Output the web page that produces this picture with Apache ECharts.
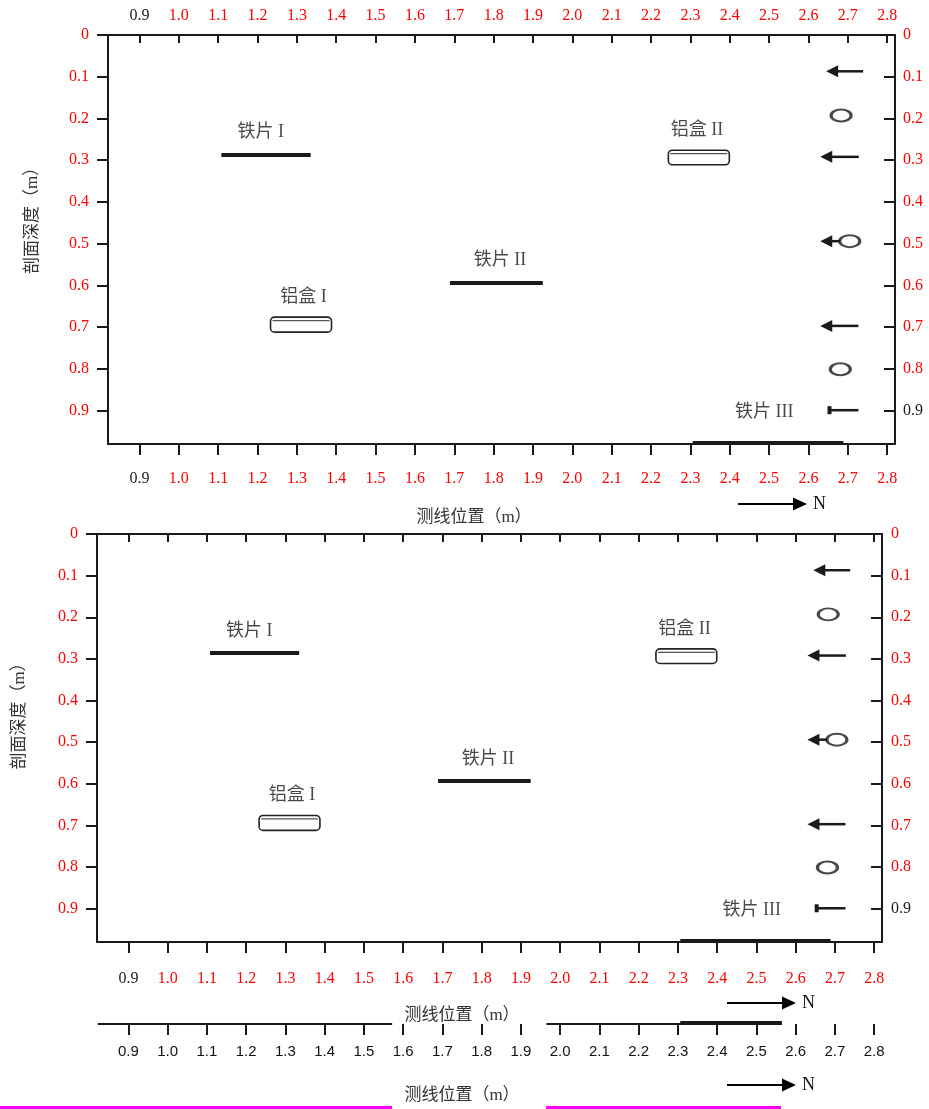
<!DOCTYPE html>
<html>
<head>
<meta charset="utf-8">
<script src="https://cdn.jsdelivr.net/npm/echarts@6/dist/echarts.min.js"></script>
<style>
  html, body { margin: 0; padding: 0; background: #fff; }
  #chart { width: 929px; height: 1109px; }
</style>
</head>
<body>
<div id="chart"></div>
<script>
// tick values
const xTicks = [0.9, 1.0, 1.1, 1.2, 1.3, 1.4, 1.5, 1.6, 1.7, 1.8, 1.9, 2.0, 2.1, 2.2, 2.3, 2.4, 2.5, 2.6, 2.7, 2.8];
const yTicks = [0, 0.1, 0.2, 0.3, 0.4, 0.5, 0.6, 0.7, 0.8, 0.9];

// 铁片 (iron sheets)
const sheetNames = ['铁片 I', '铁片 II', '铁片 III'];
const sheetStart = [1.108, 1.689, 2.306];
const sheetEnd = [1.335, 1.925, 2.689];
const sheetDepth = [0.286, 0.593, 0.978];
const sheetLabelX = [1.208, 1.816, 2.488];
const sheetLabelDepth = [0.234, 0.54, 0.903];

// 铝盒 (aluminium boxes)
const boxNames = ['铝盒 I', '铝盒 II'];
const boxStart = [1.233, 2.244];
const boxEnd = [1.388, 2.399];
const boxTop = [0.676, 0.276];
const boxBottom = [0.712, 0.311];
const boxLabelX = [1.317, 2.317];
const boxLabelDepth = [0.628, 0.229];

// arrows and rings in the right column
const arrowTip = [2.645, 2.630, 2.630, 2.630, 2.651];
const arrowTail = [2.739, 2.728, 2.680, 2.727, 2.727];
const arrowDepth = [0.087, 0.292, 0.494, 0.697, 0.899];
const arrowBlunt = [0, 0, 0, 0, 1];
const ringX = [2.683, 2.705, 2.681];
const ringDepth = [0.193, 0.494, 0.801];

// lower strip
const stripAxisStart = [0.822, 1.965];
const stripAxisEnd = [1.572, 2.565];
const stripSheetStart = 2.306;
const stripSheetEnd = 2.565;

const RED = '#ff0000';
const INK = '#1a1a1a';
const SERIF = '"Liberation Serif", "Noto Sans CJK SC", serif';
const fmtX = v => v.toFixed(1);
const fmtY = v => (v === 0 ? '0' : v.toFixed(1));
const X_TITLE = '测线位置（m）';
const Y_TITLE = '剖面深度（m）';

function xAxis(grid, pos, o) {
  return {
    type: 'value', gridIndex: grid, position: pos, min: 0.82, max: 2.82,
    splitLine: { show: false },
    axisLine: { show: o.line !== false, onZero: false, lineStyle: { color: INK, width: 2 } },
    axisTick: { show: true, inside: o.inside, length: o.tickLen, customValues: xTicks, lineStyle: { color: INK, width: 2 } },
    axisLabel: {
      show: o.labels !== false, customValues: xTicks, margin: o.margin,
      formatter: fmtX, fontFamily: o.font || SERIF, fontSize: o.fontSize || 16,
      color: o.color || (v => (Math.abs(v - 0.9) < 1e-6 ? INK : RED))
    },
    name: o.name || '', nameLocation: 'middle', nameGap: o.nameGap || 0,
    nameTextStyle: { fontFamily: SERIF, fontSize: 17, color: '#333', padding: [0, 55, 0, 0] }
  };
}

function yAxis(grid, pos, o) {
  return {
    type: 'value', gridIndex: grid, position: pos, min: 0, max: 0.98, inverse: true,
    splitLine: { show: false },
    axisLine: { show: true, lineStyle: { color: INK, width: 2 } },
    axisTick: { show: true, inside: o.inside, length: 11, customValues: yTicks, lineStyle: { color: INK, width: 2 } },
    axisLabel: {
      customValues: yTicks, margin: o.margin, formatter: fmtY,
      fontFamily: SERIF, fontSize: 16, color: o.color
    },
    name: o.name || '', nameLocation: 'middle', nameGap: o.nameGap || 0, nameRotate: 90,
    nameTextStyle: { fontFamily: SERIF, fontSize: 17, color: '#333', padding: o.namePad || 0 }
  };
}

function plotSeries(xi, yi) {
  const base = { xAxisIndex: xi, yAxisIndex: yi, silent: true };
  return [
    Object.assign({}, base, {
      type: 'lines', coordinateSystem: 'cartesian2d', z: 5,
      lineStyle: { color: INK, width: 4, opacity: 1 },
      data: sheetNames.map((n, i) => ({ coords: [[sheetStart[i], sheetDepth[i]], [sheetEnd[i], sheetDepth[i]]] }))
    }),
    Object.assign({}, base, {
      type: 'scatter', symbolSize: 0,
      label: { show: true, position: 'inside', formatter: p => p.value[2], fontFamily: SERIF, fontSize: 18, color: INK },
      data: sheetNames.map((n, i) => [sheetLabelX[i], sheetLabelDepth[i], n])
        .concat(boxNames.map((n, i) => [boxLabelX[i], boxLabelDepth[i], n]))
    }),
    Object.assign({}, base, {
      type: 'custom',
      renderItem: (params, api) => {
        const a = api.coord([api.value(0), api.value(2)]);
        const b = api.coord([api.value(1), api.value(3)]);
        return {
          type: 'group', children: [
            { type: 'rect', shape: { x: a[0], y: a[1], width: b[0] - a[0], height: b[1] - a[1], r: 4 },
              style: { fill: '#fff', stroke: '#222', lineWidth: 1.6 } },
            { type: 'line', shape: { x1: a[0] + 2, y1: a[1] + 3.5, x2: b[0] - 2, y2: a[1] + 3.5 },
              style: { stroke: '#555', lineWidth: 1.2 } }
          ]
        };
      },
      data: boxNames.map((n, i) => [boxStart[i], boxEnd[i], boxTop[i], boxBottom[i]])
    }),
    Object.assign({}, base, {
      type: 'custom',
      renderItem: (params, api) => {
        const tip = api.coord([api.value(0), api.value(2)]);
        const tail = api.coord([api.value(1), api.value(2)]);
        const y = tip[1];
        if (api.value(3) === 1) {
          return {
            type: 'group', children: [
              { type: 'line', shape: { x1: tip[0], y1: y, x2: tail[0], y2: y }, style: { stroke: INK, lineWidth: 2.5 } },
              { type: 'rect', shape: { x: tip[0] - 1, y: y - 4, width: 4, height: 8 }, style: { fill: INK } }
            ]
          };
        }
        return {
          type: 'group', children: [
            { type: 'line', shape: { x1: tip[0] + 8, y1: y, x2: tail[0], y2: y }, style: { stroke: INK, lineWidth: 2.5 } },
            { type: 'polygon', shape: { points: [[tip[0], y], [tip[0] + 12, y - 6], [tip[0] + 12, y + 6]] }, style: { fill: INK } }
          ]
        };
      },
      data: arrowTip.map((t, i) => [t, arrowTail[i], arrowDepth[i], arrowBlunt[i]])
    }),
    Object.assign({}, base, {
      type: 'scatter', symbol: 'circle', symbolSize: [20, 12],
      itemStyle: { color: 'rgba(0,0,0,0)', borderColor: INK, borderWidth: 2.5 },
      data: ringX.map((x, i) => [x, ringDepth[i]])
    })
  ];
}

function northArrow(x, y, nx) {
  return {
    type: 'group', children: [
      { type: 'line', shape: { x1: x, y1: y, x2: x + 57, y2: y }, style: { stroke: '#000', lineWidth: 2.2 } },
      { type: 'polygon', shape: { points: [[x + 55, y - 6.5], [x + 69, y], [x + 55, y + 6.5]] }, style: { fill: '#000' } },
      { type: 'text', x: nx, y: y, style: { text: 'N', font: '18px ' + SERIF, fill: '#111', verticalAlign: 'middle' } }
    ]
  };
}

const chart = echarts.init(document.getElementById('chart'), null, { renderer: 'canvas' });
chart.setOption({
  backgroundColor: '#fff',
  animation: false,
  grid: [
    { left: 108, top: 35, width: 787, height: 409 },
    { left: 97, top: 534, width: 785, height: 408 },
    { left: 97, top: 1000, width: 785, height: 24 }
  ],
  xAxis: [
    xAxis(0, 'bottom', { inside: false, tickLen: 11, margin: 27, name: X_TITLE, nameGap: 65 }),
    xAxis(0, 'top', { inside: true, tickLen: 8, margin: 11 }),
    xAxis(1, 'bottom', { inside: false, tickLen: 11, margin: 29, name: X_TITLE, nameGap: 65 }),
    xAxis(1, 'top', { inside: true, tickLen: 8, labels: false }),
    xAxis(2, 'bottom', { line: false, inside: false, tickLen: 11, margin: 20, font: '"Liberation Sans", Arial, sans-serif',
      fontSize: 15, color: '#111', name: X_TITLE, nameGap: 63 })
  ],
  yAxis: [
    yAxis(0, 'left', { inside: false, margin: 19, color: RED, name: Y_TITLE, nameGap: 67, namePad: [0, 0, 0, 46] }),
    yAxis(0, 'right', { inside: true, margin: 8, color: v => (Math.abs(v - 0.9) < 1e-6 ? INK : RED) }),
    yAxis(1, 'left', { inside: false, margin: 19, color: RED, name: Y_TITLE, nameGap: 69, namePad: [0, 0, 0, 52] }),
    yAxis(1, 'right', { inside: true, margin: 9, color: v => (Math.abs(v - 0.9) < 1e-6 ? INK : RED) }),
    { type: 'value', gridIndex: 2, min: 0, max: 1, show: false }
  ],
  series: plotSeries(0, 0).concat(plotSeries(2, 2)).concat([
    {
      type: 'lines', coordinateSystem: 'cartesian2d', xAxisIndex: 4, yAxisIndex: 4, silent: true,
      lineStyle: { color: INK, width: 2, opacity: 1 },
      data: stripAxisStart.map((s, i) => ({ coords: [[s, 0], [stripAxisEnd[i], 0]] }))
    },
    {
      type: 'lines', coordinateSystem: 'cartesian2d', xAxisIndex: 4, yAxisIndex: 4, silent: true,
      lineStyle: { color: INK, width: 4, opacity: 1 },
      data: [{ coords: [[stripSheetStart, 0.05], [stripSheetEnd, 0.05]] }]
    }
  ]),
  graphic: [
    northArrow(738, 504, 813),
    northArrow(727, 1003, 802),
    northArrow(727, 1085, 802),
    { type: 'rect', shape: { x: 0, y: 1106, width: 392, height: 3 }, style: { fill: '#ff00ff' } },
    { type: 'rect', shape: { x: 546, y: 1106, width: 235, height: 3 }, style: { fill: '#ff00ff' } }
  ]
});
</script>
</body>
</html>
